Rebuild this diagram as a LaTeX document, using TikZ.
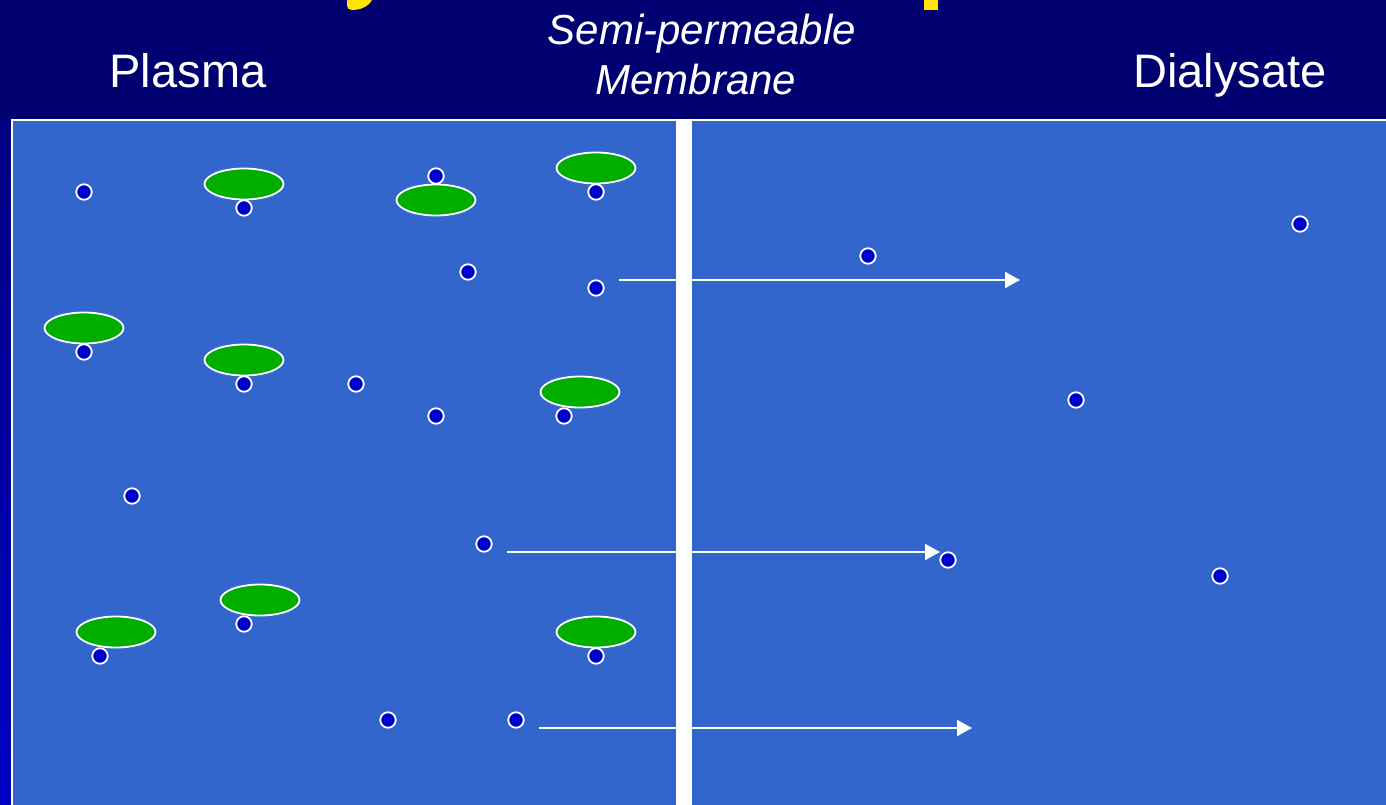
\documentclass[tikz,border=0pt]{standalone}
\usepackage{fontspec}
\setmainfont{Liberation Sans}
\usetikzlibrary{shapes.geometric,arrows.meta}
\definecolor{navy}{HTML}{000070}
\definecolor{stripblue}{HTML}{0000C4}
\definecolor{panelblue}{HTML}{3366CC}
\definecolor{molblue}{HTML}{0000CC}
\definecolor{protgreen}{HTML}{00AE00}
\definecolor{titleyellow}{HTML}{FFE500}
\tikzset{
  solute/.style={circle,draw=white,line width=1.8pt,fill=molblue,minimum size=15.5pt,inner sep=0pt},
  protein/.style={ellipse,draw=white,line width=1.8pt,fill=protgreen,minimum width=79pt,minimum height=31pt,inner sep=0pt},
  flow/.style={draw=white,line width=2pt,-{Triangle[length=15pt,width=16pt]}},
  label/.style={text=white,inner sep=0pt,anchor=base},
}
\begin{document}
\begin{tikzpicture}[x=1pt,y=-1pt]
\useasboundingbox (0,0) rectangle (1386,805);
\clip (0,0) rectangle (1386,805);
% background
\fill[navy] (0,0) rectangle (1386,805);
\shade[top color=navy!80!stripblue,bottom color=stripblue] (0,120) rectangle (11,805);
% remnants of the title, cut off at the top
\fill[titleyellow] (347,0) -- (372,0) .. controls (368,7) and (360,10) .. (352,10) .. controls (349,10) and (347,8) .. (347,6) -- cycle;
\fill[titleyellow] (924,0) rectangle (938,10);
% panel
\draw[white,line width=2pt,fill=panelblue] (11.5,120) rectangle (1400,820);
% membrane
\fill[white] (676,119) rectangle (692,810);
% labels
\node[label,font=\fontsize{47}{56}\selectfont] (plasma) at (188,88) {Plasma};
\node[label,font=\fontsize{47}{56}\selectfont] (dialysate) at (1230,88) {Dialysate};
\node[label,font=\fontsize{42}{50}\itshape\selectfont] (semi) at (702,45) {Semi-permeable};
\node[label,font=\fontsize{42}{50}\itshape\selectfont] (memb) at (696,95) {Membrane};
% proteins
\node[protein] (p1) at (244,184) {};
\node[protein] (p2) at (436,200) {};
\node[protein] (p3) at (596,168) {};
\node[protein] (p4) at (84,328) {};
\node[protein] (p5) at (244,360) {};
\node[protein] (p6) at (580,392) {};
\node[protein] (p7) at (260,600) {};
\node[protein] (p8) at (116,632) {};
\node[protein] (p9) at (596,632) {};
% solutes, plasma side
\node[solute] (s1) at (84,192) {};
\node[solute] (s2) at (244,208) {};
\node[solute] (s3) at (436,176) {};
\node[solute] (s4) at (596,192) {};
\node[solute] (s5) at (468,272) {};
\node[solute] (s6) at (596,288) {};
\node[solute] (s7) at (84,352) {};
\node[solute] (s8) at (244,384) {};
\node[solute] (s9) at (356,384) {};
\node[solute] (s10) at (436,416) {};
\node[solute] (s11) at (564,416) {};
\node[solute] (s12) at (132,496) {};
\node[solute] (s13) at (484,544) {};
\node[solute] (s14) at (244,624) {};
\node[solute] (s15) at (100,656) {};
\node[solute] (s16) at (596,656) {};
\node[solute] (s17) at (388,720) {};
\node[solute] (s18) at (516,720) {};
% solutes, dialysate side
\node[solute] (d1) at (868,256) {};
\node[solute] (d2) at (1300,224) {};
\node[solute] (d3) at (1076,400) {};
\node[solute] (d4) at (948,560) {};
\node[solute] (d5) at (1220,576) {};
% diffusion arrows
\coordinate (a1s) at (619,280);
\coordinate (a1e) at (1020,280);
\coordinate (a2s) at (507,552);
\coordinate (a2e) at (940,552);
\coordinate (a3s) at (539,728);
\coordinate (a3e) at (972,728);
\draw[flow] (a1s) -- (a1e);
\draw[flow] (a2s) -- (a2e);
\draw[flow] (a3s) -- (a3e);
\end{tikzpicture}
\end{document}
